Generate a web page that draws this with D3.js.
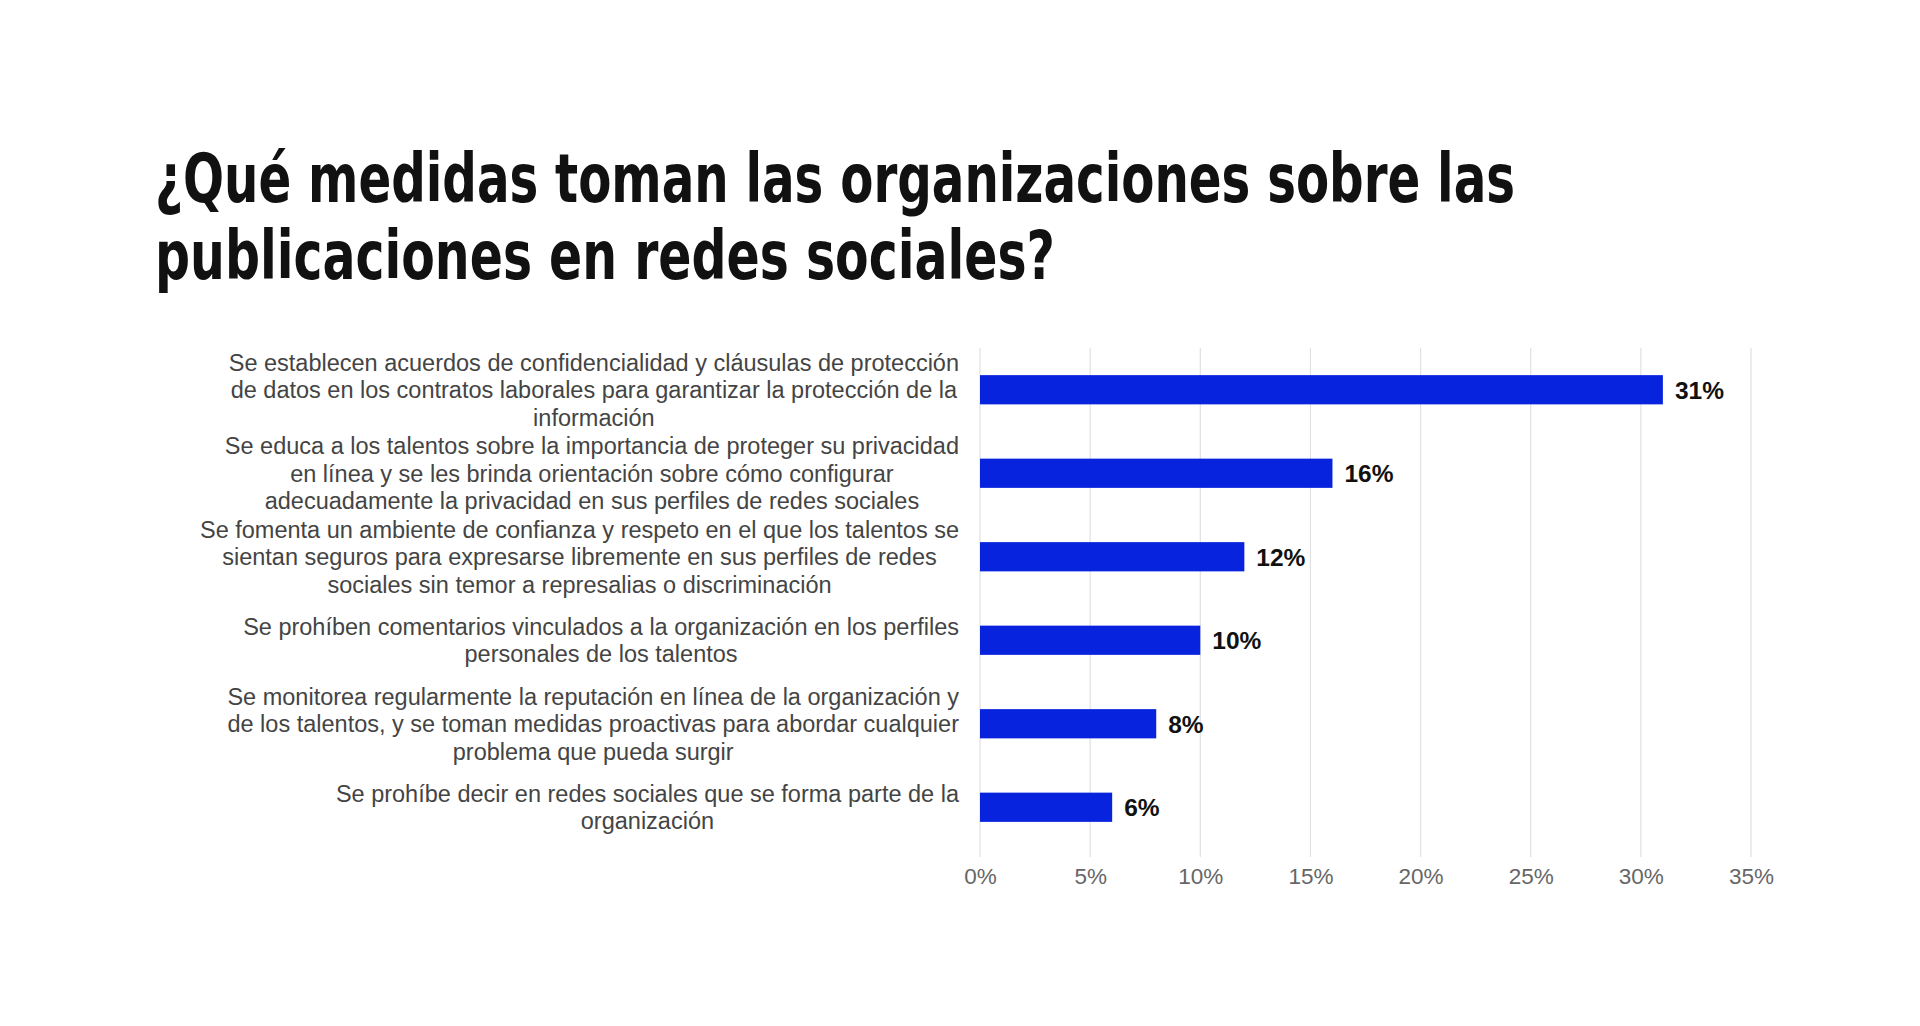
<!DOCTYPE html>
<html>
<head>
<meta charset="utf-8">
<script src="https://cdn.jsdelivr.net/npm/d3@7"></script>
<style>
  html, body { margin: 0; padding: 0; background: #fff; }
  svg { display: block; }
</style>
</head>
<body>
<svg id="chart" width="1920" height="1026"></svg>
<script>
const titleLines = [
  "¿Qué medidas toman las organizaciones sobre las",
  "publicaciones en redes sociales?"
];
const categories = [
  "Se establecen acuerdos de confidencialidad y cláusulas de protección de datos en los contratos laborales para garantizar la protección de la información",
  "Se educa a los talentos sobre la importancia de proteger su privacidad en línea y se les brinda orientación sobre cómo configurar adecuadamente la privacidad en sus perfiles de redes sociales",
  "Se fomenta un ambiente de confianza y respeto en el que los talentos se sientan seguros para expresarse libremente en sus perfiles de redes sociales sin temor a represalias o discriminación",
  "Se prohíben comentarios vinculados a la organización en los perfiles personales de los talentos",
  "Se monitorea regularmente la reputación en línea de la organización y de los talentos, y se toman medidas proactivas para abordar cualquier problema que pueda surgir",
  "Se prohíbe decir en redes sociales que se forma parte de la organización"
];
const categoryLines = [
  ["Se establecen acuerdos de confidencialidad y cláusulas de protección", "de datos en los contratos laborales para garantizar la protección de la", "información"],
  ["Se educa a los talentos sobre la importancia de proteger su privacidad", "en línea y se les brinda orientación sobre cómo configurar", "adecuadamente la privacidad en sus perfiles de redes sociales"],
  ["Se fomenta un ambiente de confianza y respeto en el que los talentos se", "sientan seguros para expresarse libremente en sus perfiles de redes", "sociales sin temor a represalias o discriminación"],
  ["Se prohíben comentarios vinculados a la organización en los perfiles", "personales de los talentos"],
  ["Se monitorea regularmente la reputación en línea de la organización y", "de los talentos, y se toman medidas proactivas para abordar cualquier", "problema que pueda surgir"],
  ["Se prohíbe decir en redes sociales que se forma parte de la", "organización"]
];
const values = [31, 16, 12, 10, 8, 6];
const tickValues = [0, 5, 10, 15, 20, 25, 30, 35];
const tickLabels = ["0%", "5%", "10%", "15%", "20%", "25%", "30%", "35%"];

const svg = d3.select("#chart");

// Title
const titleG = svg.append("g");
titleLines.forEach((t, i) => {
  titleG.append("text")
    .attr("x", 155)
    .attr("y", 202 + i * 77)
    .attr("font-family", "'DejaVu Sans Condensed', 'DejaVu Sans', sans-serif")
    .attr("font-weight", "bold")
    .attr("font-size", 67)
    .attr("fill", "#111")
    .attr("textLength", i === 0 ? 1360 : 900)
    .attr("lengthAdjust", "spacingAndGlyphs")
    .text(t);
});

const plotLeft = 980, plotTop = 348, plotBottom = 849;
const x = d3.scaleLinear().domain([0, 35]).range([plotLeft, 1751]);
const y = d3.scaleBand().domain(categories).range([plotTop, plotBottom])
  .paddingInner(0.65).paddingOuter(0.325);

// Gridlines
svg.append("g").selectAll("line").data(tickValues).join("line")
  .attr("x1", d => x(d)).attr("x2", d => x(d))
  .attr("y1", plotTop).attr("y2", plotBottom + 8)
  .attr("stroke", "#e0e0e0").attr("stroke-width", 1.2);

// X axis labels
const xAxis = d3.axisBottom(x).tickValues(tickValues)
  .tickFormat((d, i) => tickLabels[i]).tickSize(0).tickPadding(0);
const axG = svg.append("g").attr("transform", `translate(0, ${plotBottom + 19})`).call(xAxis);
axG.select(".domain").remove();
axG.selectAll("text")
  .attr("font-family", "'Liberation Sans', Arial, sans-serif")
  .attr("font-size", 22.5)
  .attr("fill", "#666")
  .attr("dy", "0.71em");

// Bars
svg.append("g").selectAll("rect").data(values).join("rect")
  .attr("x", x(0))
  .attr("y", (d, i) => y(categories[i]))
  .attr("width", d => x(d) - x(0))
  .attr("height", y.bandwidth())
  .attr("fill", "#0723dd");

// Value labels
svg.append("g").selectAll("text").data(values).join("text")
  .attr("x", d => x(d) + 12)
  .attr("y", (d, i) => y(categories[i]) + y.bandwidth() / 2)
  .attr("dy", "0.36em")
  .attr("font-family", "'Liberation Sans', Arial, sans-serif")
  .attr("font-weight", "bold")
  .attr("font-size", 24.5)
  .attr("fill", "#111")
  .text(d => d + "%");

// Category labels (right-aligned block, lines centered)
const labelRight = 959, lineH = 27.5;
categoryLines.forEach((lines, i) => {
  const cy = y(categories[i]) + y.bandwidth() / 2;
  const g = svg.append("g");
  const texts = lines.map((ln, j) => g.append("text")
    .attr("y", cy + (j - (lines.length - 1) / 2) * lineH)
    .attr("dy", "0.36em")
    .attr("text-anchor", "middle")
    .attr("font-family", "'Liberation Sans', Arial, sans-serif")
    .attr("font-size", 23.5)
    .attr("fill", "#444")
    .text(ln));
  const maxW = d3.max(texts, t => t.node().getComputedTextLength());
  texts.forEach(t => t.attr("x", labelRight - maxW / 2));
});
</script>
</body>
</html>
